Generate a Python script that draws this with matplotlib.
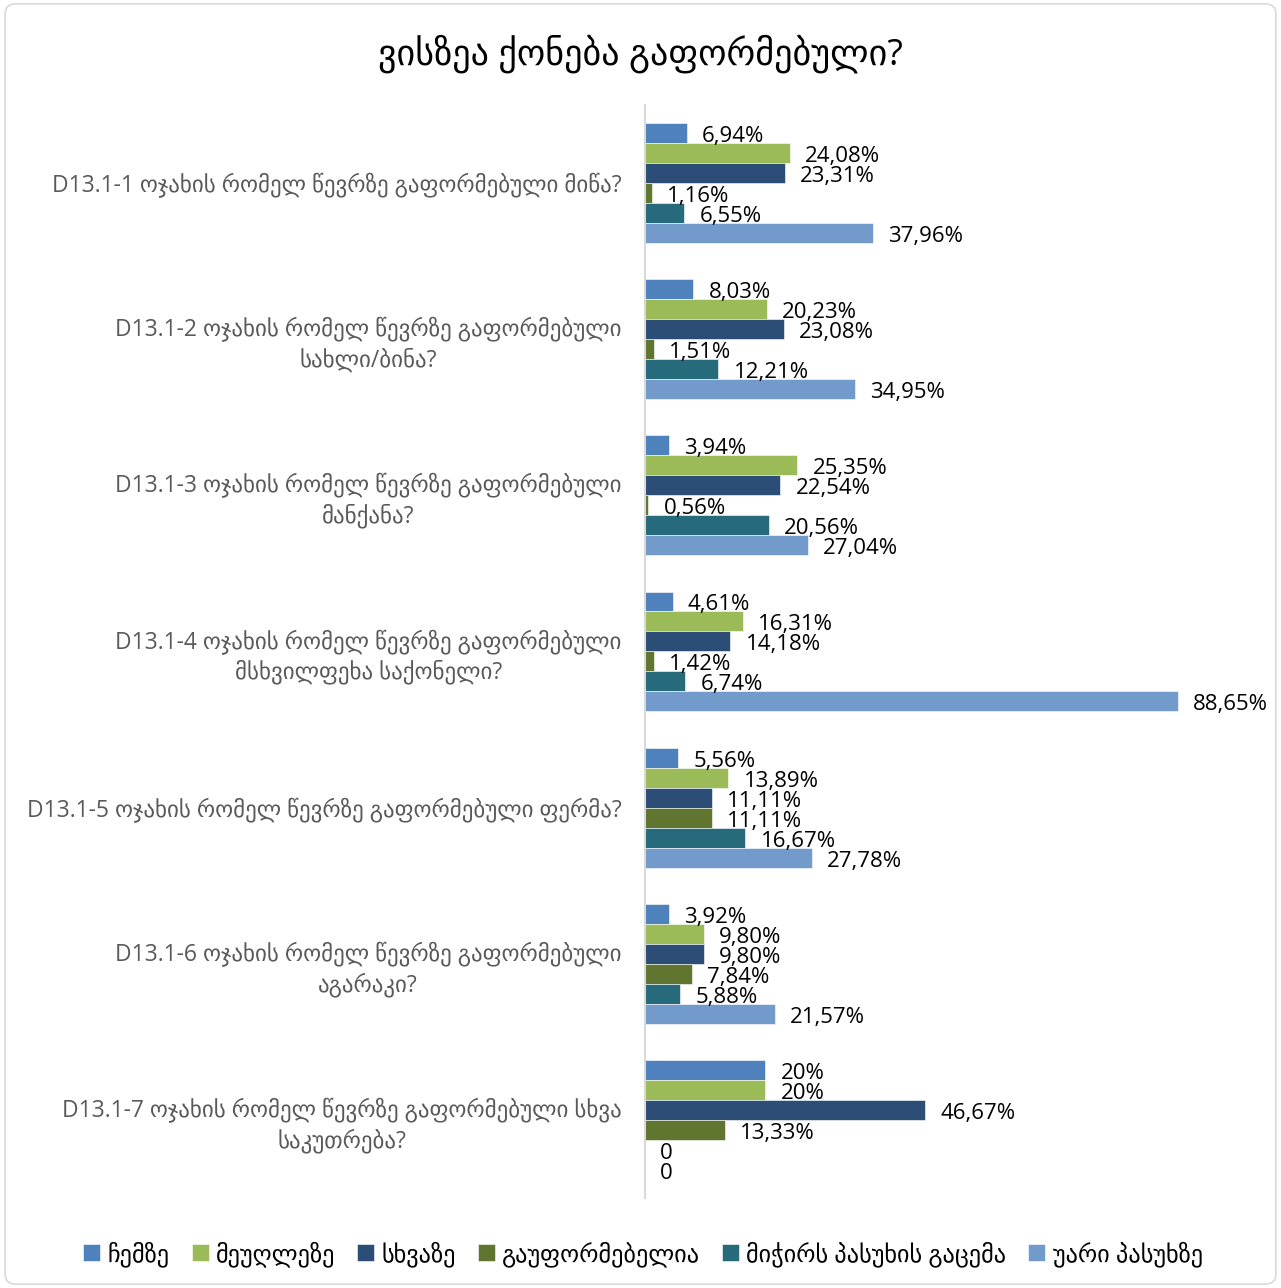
import numpy as np
import matplotlib
matplotlib.use('Agg')
import matplotlib.pyplot as plt
from matplotlib.patches import FancyBboxPatch

plt.rcParams['font.family'] = ['Open Sans', 'DejaVu Sans']

categories = [
    'D13.1-1 ოჯახის რომელ წევრზე გაფორმებული მიწა?',
    'D13.1-2 ოჯახის რომელ წევრზე გაფორმებული\nსახლი/ბინა?',
    'D13.1-3 ოჯახის რომელ წევრზე გაფორმებული\nმანქანა?',
    'D13.1-4 ოჯახის რომელ წევრზე გაფორმებული\nმსხვილფეხა საქონელი?',
    'D13.1-5 ოჯახის რომელ წევრზე გაფორმებული ფერმა?',
    'D13.1-6 ოჯახის რომელ წევრზე გაფორმებული\nაგარაკი?',
    'D13.1-7 ოჯახის რომელ წევრზე გაფორმებული სხვა\nსაკუთრება?',
]

series_names = ['ჩემზე', 'მეუღლეზე', 'სხვაზე', 'გაუფორმებელია',
                'მიჭირს პასუხის გაცემა', 'უარი პასუხზე']
colors = ['#4F81BD', '#9BBB59', '#2C4D75', '#5F7530', '#276A7C', '#729ACA']

chemze = [6.94, 8.03, 3.94, 4.61, 5.56, 3.92, 20]
meugleze = [24.08, 20.23, 25.35, 16.31, 13.89, 9.80, 20]
skhvaze = [23.31, 23.08, 22.54, 14.18, 11.11, 9.80, 46.67]
gauformebelia = [1.16, 1.51, 0.56, 1.42, 11.11, 7.84, 13.33]
michirs = [6.55, 12.21, 20.56, 6.74, 16.67, 5.88, 0]
uari = [37.96, 34.95, 27.04, 88.65, 27.78, 21.57, 0]
values = [chemze, meugleze, skhvaze, gauformebelia, michirs, uari]


def fmt(v):
    if v == 0:
        return '0'
    if float(v).is_integer():
        return '%d%%' % v
    return ('%.2f%%' % v).replace('.', ',')


fig = plt.figure(figsize=(12.81, 12.88), dpi=100)
ax = fig.add_axes([0.5035, 0.0699, 0.4692, 0.8486])

y = np.arange(len(categories))
h = 0.128
for j, (name, vals, c) in enumerate(zip(series_names, values, colors)):
    pos = y + (j - 2.5) * h
    ax.barh(pos, vals, height=h, color=c, label=name,
            edgecolor='white', linewidth=0.4)
    for p, v in zip(pos, vals):
        ax.annotate(fmt(v), (v, p), xytext=(11, -2.5), textcoords='offset points',
                    va='center', ha='left', fontsize=16, color='black')

ax.set_xlim(0, 100)
ax.set_ylim(len(categories) - 0.5, -0.5)
ax.set_yticks(y)
ax.set_yticklabels(categories, fontsize=16.5, color='#595959',
                   multialignment='center', linespacing=1.3)
ax.tick_params(axis='y', length=0, pad=17)
ax.set_xticks([])
for s in ['top', 'right', 'bottom']:
    ax.spines[s].set_visible(False)
ax.spines['left'].set_color('#D9D9D9')
ax.spines['left'].set_linewidth(1.5)

fig.text(0.5, 0.958, 'ვისზეა ქონება გაფორმებული?', ha='center', va='center',
         fontsize=26, color='black')

fig.legend(loc='center', bbox_to_anchor=(0.502, 0.026), ncol=6, frameon=False,
           fontsize=17.5, handlelength=0.7, handleheight=0.7, handletextpad=0.3,
           columnspacing=0.9)

border = FancyBboxPatch((0.004, 0.003), 0.992, 0.994, boxstyle='round,pad=0,rounding_size=0.008',
                        transform=fig.transFigure, fill=False, edgecolor='#D9D9D9', linewidth=1.2)
fig.patches.append(border)

fig.savefig('out.png', dpi=100, facecolor='white')
